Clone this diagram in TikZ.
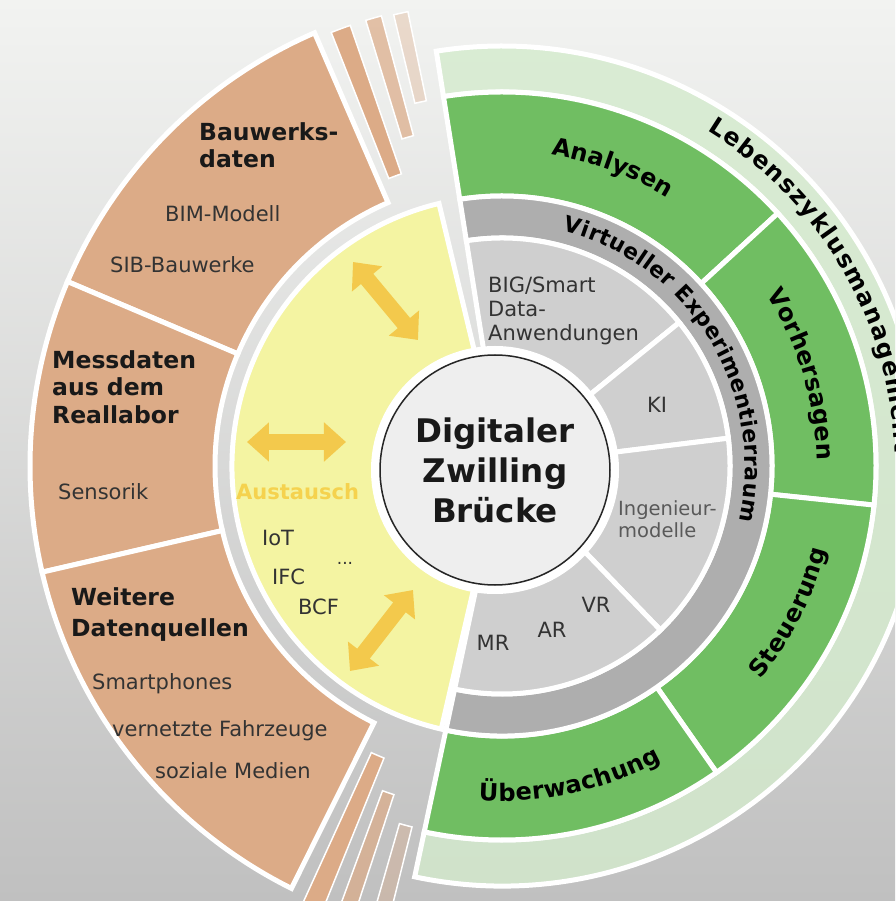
\documentclass[tikz,border=0pt]{standalone}
\usepackage{fontspec}
\setmainfont{DejaVu Sans}
\usetikzlibrary{arrows.meta,decorations.text}

\definecolor{bgtop}{RGB}{242,243,241}
\definecolor{bgmid}{RGB}{232,233,231}
\definecolor{bgbot}{RGB}{192,192,192}
\definecolor{brn}{RGB}{220,171,135}
\definecolor{ylw}{RGB}{244,244,162}
\definecolor{arw}{RGB}{243,201,76}
\definecolor{aust}{RGB}{245,210,78}
\definecolor{grn}{RGB}{112,190,98}
\definecolor{pale}{RGB}{212,235,205}
\definecolor{dgr}{RGB}{174,174,174}
\definecolor{lgr}{RGB}{207,207,207}
\definecolor{core}{RGB}{238,238,238}

\newcommand{\ringpart}[5]{%
  \filldraw[#1] (#4:#2) arc[start angle=#4,end angle=#5,radius=#2]
    -- (#5:#3) arc[start angle=#5,end angle=#4,radius=#3] -- cycle;}
\newcommand{\headsz}{\fontsize{23.5}{27.5}\selectfont\bfseries}
\newcommand{\itemsz}{\fontsize{21}{24}\selectfont}
\newcommand{\ringsz}{\fontsize{24}{28}\selectfont\bfseries}
\newcommand{\vxsz}{\fontsize{22}{26}\selectfont\bfseries}

\begin{document}
\begin{tikzpicture}[x=1pt,y=1pt,
  seg/.style={draw=white,line width=5},
  strip/.style={fill=brn,draw=white,line width=1.5},
  hdtext/.style={inner sep=0,anchor=north west,align=left,font=\headsz,text=black!90},
  ittext/.style={inner sep=0,anchor=north west,align=left,font=\itemsz,text=black!80},
  xarrow/.style={line width=16,draw=arw,{Triangle[length=22pt,width=38pt]}-{Triangle[length=22pt,width=38pt]}},
  curved/.style={decorate,decoration={text along path,text align=fit to path,text={|\ringsz|#1}}}]
        \useasboundingbox (-502,-435) rectangle (393,466);
        \clip (-502,-435) rectangle (393,466);
        \shade[top color=bgtop,middle color=bgmid,bottom color=bgbot] (-502,-435) rectangle (393,466);

        \ringpart{seg,fill=pale,fill opacity=0.8}{374}{420}{99}{-102}
        \ringpart{seg,fill=grn}{270}{374}{99}{42.5}
        \ringpart{seg,fill=grn}{270}{374}{42.5}{-6}
        \ringpart{seg,fill=grn}{270}{374}{-6}{-55}
        \ringpart{seg,fill=grn}{270}{374}{-55}{-102}
        \ringpart{seg,fill=dgr}{228}{270}{99}{-102}
        \ringpart{seg,fill=lgr}{1}{228}{99}{39}
        \ringpart{seg,fill=lgr}{1}{228}{39}{7}
        \ringpart{seg,fill=lgr}{1}{228}{7}{-46}
        \ringpart{seg,fill=lgr}{1}{228}{-46}{-102}
        \ringpart{seg,fill=ylw}{1}{270}{103.5}{257}
        \ringpart{seg,fill=brn}{287}{472}{113.4}{157}
        \ringpart{seg,fill=brn}{287}{472}{157}{193}
        \ringpart{seg,fill=brn}{287}{472}{193}{243.5}
        \ringpart{strip}{309}{466}{109}{111.5}
        \ringpart{strip,fill opacity=0.7}{342}{466}{105}{107}
        \ringpart{strip,fill opacity=0.35}{373}{464}{101.7}{103.5}
        \ringpart{strip}{315}{480}{245.5}{248}
        \ringpart{strip,fill opacity=0.7}{346}{480}{249.8}{251.8}
        \ringpart{strip,fill opacity=0.35}{372}{480}{254}{256}

        \fill[white] (-7,-4) circle (124);
        \node[circle,draw=black!85,line width=1.5,fill=core,minimum size=230,inner sep=0,align=center,font=\fontsize{32.5}{40}\selectfont\bfseries,text=black!90] (dzb) at (-7,-4) {Digitaler\\Zwilling\\Br\"ucke};

        \node[hdtext] (bau) at (-303,344) {Bauwerks-\\daten};
        \node[ittext] (bim) at (-337,261) {BIM-Modell};
        \node[ittext] (sib) at (-392,210) {SIB-Bauwerke};
        \node[hdtext] (mess) at (-450,116) {Messdaten\\aus dem\\Reallabor};
        \node[ittext] (sens) at (-444,-17) {Sensorik};
        \node[hdtext,font=\fontsize{23.5}{31}\selectfont\bfseries] (weit) at (-431,-121) {Weitere\\Datenquellen};
        \node[ittext] (smart) at (-410,-207) {Smartphones};
        \node[ittext] (vern) at (-390,-254) {vernetzte Fahrzeuge};
        \node[ittext] (soz) at (-347,-296) {soziale Medien};
        \node[ittext,text=aust,font=\itemsz\bfseries] (aus) at (-266,-17) {Austausch};
        \node[ittext] (iot) at (-240,-64) {IoT};
        \node[ittext] (ifc) at (-230,-103) {IFC};
        \node[ittext] (bcf) at (-204,-133) {BCF};
        \node[font=\fontsize{17}{18}\selectfont,text=black!80] (etc) at (-157,-97) {...};

        \node[ittext] (big) at (-14,189) {BIG/Smart\\Data-\\Anwendungen};
        \node[font=\itemsz,text=black!80] (ki) at (155,61) {KI};
        \node[ittext,font=\fontsize{19.5}{22}\selectfont,text=black!65] (ing) at (116,-34) {Ingenieur-\\modelle};
        \node[font=\itemsz,text=black!80] (mr) at (-9,-177) {MR};
        \node[font=\itemsz,text=black!80] (ar) at (50,-164) {AR};
        \node[font=\itemsz,text=black!80] (vr) at (94,-139) {VR};

        \path[curved=Lebenszyklusmanagement] (58.5:393) arc[start angle=58.5,end angle=2,radius=393];
        \path[curved=Analysen] (81:315) arc[start angle=81,end angle=58.3,radius=315];
        \path[curved=Vorhersagen] (33:315) arc[start angle=33,end angle=1,radius=315];
        \path[curved=Steuerung] (-39.5:335) arc[start angle=-39.5,end angle=-14.5,radius=335];
        \path[curved=Überwachung] (-94:335) arc[start angle=-94,end angle=-61.5,radius=335];
        \path[decorate,decoration={text along path,text align=fit to path,text={|\vxsz|Virtueller Experimentierraum}}] (75.5:243) arc[start angle=75.5,end angle=-12.9,radius=243];

        \coordinate (a1) at (-149,204);
        \coordinate (b1) at (-84,126);
        \coordinate (a2) at (-255,24);
        \coordinate (b2) at (-156,24);
        \coordinate (a3) at (-152,-205);
        \coordinate (b3) at (-89,-124);
        \draw[xarrow] (a1) -- (b1);
        \draw[xarrow] (a2) -- (b2);
        \draw[xarrow] (a3) -- (b3);
\end{tikzpicture}
\end{document}
